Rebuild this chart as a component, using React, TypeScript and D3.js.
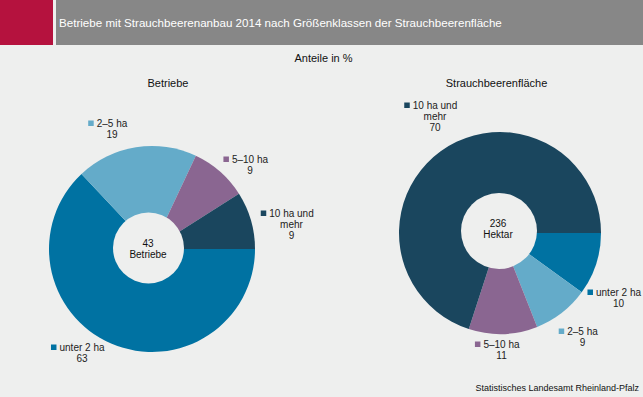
import { useEffect, useRef } from "react";
import * as d3 from "d3";

const categories = ["unter 2 ha", "2–5 ha", "5–10 ha", "10 ha und mehr"];
const labelLines = [["unter 2 ha"], ["2–5 ha"], ["5–10 ha"], ["10 ha und", "mehr"]];
const betriebeValues = [63, 19, 9, 9];
const flaecheValues = [10, 9, 11, 70];
const sliceColors = ["#0072a2", "#64abc9", "#8a6691", "#1a465e"];

const title =
  "Betriebe mit Strauchbeerenanbau 2014 nach Größenklassen der Strauchbeerenfläche";
const subtitle = "Anteile in %";
const source = "Statistisches Landesamt Rheinland-Pfalz";
const pieTitles = ["Betriebe", "Strauchbeerenfläche"];
const centerTexts = [
  ["43", "Betriebe"],
  ["236", "Hektar"],
];

// placement of the two donuts and their outside labels (offsets from centre)
const layout = [
  {
    cx: 152,
    cy: 249,
    r: 103,
    hole: { dx: -3.5, dy: -1, r: 35.5 },
    titleX: 168,
    textDx: -4,
    textDy: -2,
    labels: [
      [-70, 102],
      [-40, -122],
      [98, -86],
      [139.5, -32],
    ],
  },
  {
    cx: 500,
    cy: 233,
    r: 101,
    hole: { dx: -1, dy: -2, r: 38 },
    titleX: 496.5,
    textDx: -2,
    textDy: -6,
    labels: [
      [118.5, 63],
      [82.5, 102],
      [1.5, 115],
      [-65, -124],
    ],
  },
];

const W = 643;
const H = 397;
const BG = "#eeefee";
const FONT = "'Liberation Sans', Arial, sans-serif";

export default function App() {
  const svgRef = useRef<SVGSVGElement | null>(null);

  useEffect(() => {
    document.body.style.margin = "0";
    if (!svgRef.current) return;
    const svg = d3.select(svgRef.current);
    svg.selectAll("*").remove();
    svg.attr("width", W).attr("height", H).style("font-family", FONT);

    svg.append("rect").attr("width", W).attr("height", H).attr("fill", BG);

    // header
    svg.append("rect").attr("width", 53).attr("height", 45).attr("fill", "#b5123e");
    svg.append("rect").attr("x", 56).attr("width", W - 56).attr("height", 45).attr("fill", "#878787");
    svg
      .append("text")
      .attr("x", 59)
      .attr("y", 27)
      .attr("fill", "#fff")
      .attr("font-size", 11.6)
      .text(title);

    svg
      .append("text")
      .attr("x", 323.5)
      .attr("y", 62)
      .attr("text-anchor", "middle")
      .attr("font-size", 11)
      .attr("fill", "#111")
      .text(subtitle);

    const pie = d3
      .pie<number>()
      .sort(null)
      .startAngle(Math.PI / 2)
      .endAngle(Math.PI / 2 + 2 * Math.PI);

    [betriebeValues, flaecheValues].forEach((values, i) => {
      const L = layout[i];
      const g = svg.append("g").attr("transform", `translate(${L.cx},${L.cy})`);
      const arc = d3.arc<d3.PieArcDatum<number>>().innerRadius(0).outerRadius(L.r);

      g.selectAll("path")
        .data(pie(values))
        .join("path")
        .attr("d", arc)
        .attr("fill", (_d, j) => sliceColors[j]);

      g.append("circle")
        .attr("cx", L.hole.dx)
        .attr("cy", L.hole.dy)
        .attr("r", L.hole.r)
        .attr("fill", BG);

      centerTexts[i].forEach((t, k) => {
        g.append("text")
          .attr("x", L.textDx)
          .attr("y", L.textDy + k * 11)
          .attr("text-anchor", "middle")
          .attr("font-size", 10)
          .attr("fill", "#111")
          .text(t);
      });

      svg
        .append("text")
        .attr("x", L.titleX)
        .attr("y", 86.5)
        .attr("text-anchor", "middle")
        .attr("font-size", 11)
        .attr("fill", "#111")
        .text(pieTitles[i]);

      // outside labels: square + centred lines + value
      categories.forEach((_c, j) => {
        const [lx, ly] = L.labels[j];
        const lg = g.append("g").attr("transform", `translate(${lx},${ly})`);
        const lines = [...labelLines[j], String(values[j])];
        let firstW = 0;
        lines.forEach((t, k) => {
          const txt = lg
            .append("text")
            .attr("y", k * 11)
            .attr("text-anchor", "middle")
            .attr("font-size", 10)
            .attr("fill", "#222")
            .text(t);
          if (k === 0) firstW = (txt.node() as SVGTextElement).getComputedTextLength();
        });
        lg.append("rect")
          .attr("x", -firstW / 2 - 8.5)
          .attr("y", -6.5)
          .attr("width", 5.5)
          .attr("height", 5.5)
          .attr("fill", sliceColors[j]);
      });
    });

    svg
      .append("text")
      .attr("x", 639)
      .attr("y", 391)
      .attr("text-anchor", "end")
      .attr("font-size", 9)
      .attr("fill", "#111")
      .text(source);
  }, []);

  return <svg ref={svgRef} style={{ display: "block" }} />;
}
